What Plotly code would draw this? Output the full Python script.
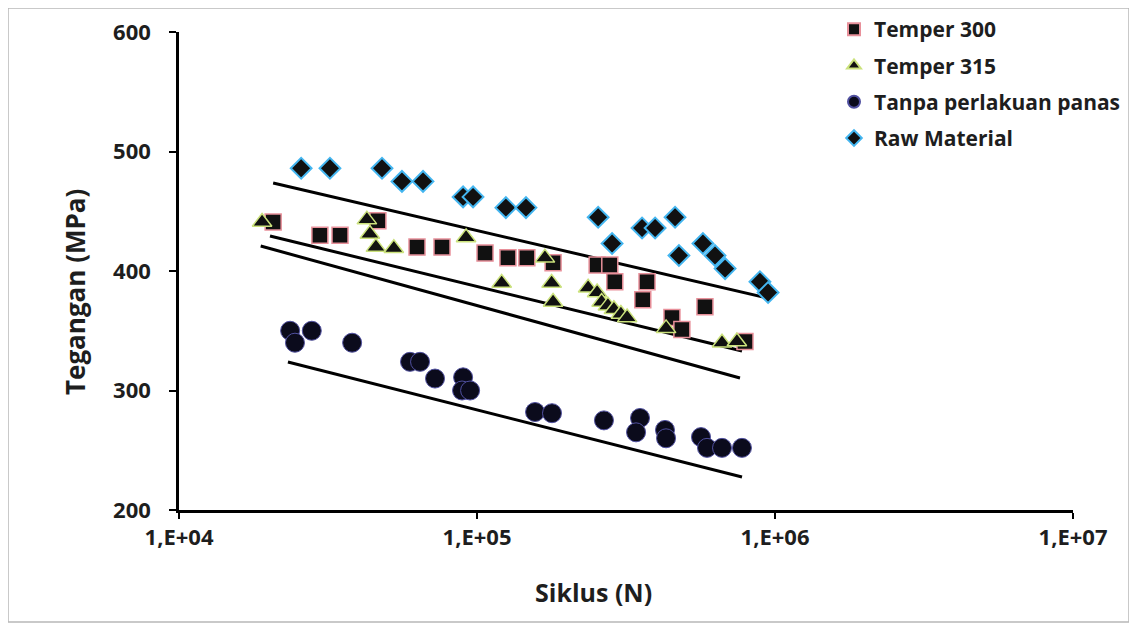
import plotly.graph_objects as go

# ---------------- data ----------------
t300_n = [20700, 29700, 34700, 46500, 62900, 76300, 106400, 127000, 147000, 180000,
          253000, 279000, 290000, 372000, 360000, 451000, 487000, 582000, 793000]
t300_s = [441, 430, 430, 442, 420, 420, 415, 411, 411, 407,
          405, 405, 391, 391, 376, 361, 351, 370, 341]

t315_n = [19000, 42700, 43700, 45800, 52600, 91900, 121000, 169000, 178000, 180000,
          236000, 253000, 262000, 275000, 288000, 304000, 319000, 431000, 664000, 745000]
t315_s = [441, 443, 431, 420, 419, 428, 390, 411, 390, 374,
          386, 382, 374, 371, 368, 364, 361, 352, 340, 341]

tanpa_n = [23600, 27900, 24500, 38100, 59600, 64400, 72300, 89800, 89100, 94800,
           156600, 178500, 266700, 352400, 341800, 427400, 430900, 564500, 591400, 664100, 774700]
tanpa_s = [350, 350, 340, 340, 324, 324, 310, 311, 300, 300,
           282, 281, 275, 277, 265, 267, 260, 261, 252, 252, 252]

raw_n = [25700, 32100, 48000, 56000, 65900, 89800, 97000, 125000, 146000, 255000,
         284000, 358000, 396000, 462000, 476000, 573000, 629000, 680000, 890000, 948000]
raw_s = [486, 486, 486, 475, 475, 462, 462, 453, 453, 445,
         423, 436, 436, 445, 413, 423, 413, 402, 391, 382]

# trend lines (end points)
trend_raw_n = [20700, 940000]
trend_raw_s = [473.6, 377.4]
trend_t300_n = [20200, 775000]
trend_t300_s = [429.3, 333.1]
trend_t315_n = [18800, 763000]
trend_t315_s = [420.9, 310.5]
trend_tanpa_n = [23200, 775000]
trend_tanpa_s = [323.8, 227.6]

x_tickvals = [1e4, 1e5, 1e6, 1e7]
x_ticktext = ["1,E+04", "1,E+05", "1,E+06", "1,E+07"]
y_tickvals = [200, 300, 400, 500, 600]

FONT = "Open Sans"
TXT = "#1e1e1e"

# page body adds an 8px offset; plot area in screen px: x 179..1073, y 32..510
OFF = 8
W, H = 1137 - OFF, 630 - OFF
L, T = 179 - OFF, 32 - OFF
PW, PH = 894, 478


def px(xs):
    return (xs - 179) / PW


def py(ys):
    return (510 - ys) / PH


fig = go.Figure()

# trend lines
for xs, ys in [(trend_raw_n, trend_raw_s), (trend_t300_n, trend_t300_s),
               (trend_t315_n, trend_t315_s), (trend_tanpa_n, trend_tanpa_s)]:
    fig.add_trace(go.Scatter(x=xs, y=ys, mode="lines",
                             line=dict(color="black", width=3),
                             showlegend=False, hoverinfo="skip"))

fig.add_trace(go.Scatter(x=t300_n, y=t300_s, mode="markers", name="Temper 300",
                         legendgroup="a",
                         marker=dict(symbol="square", size=16, color="#111111",
                                     line=dict(color="#e8909a", width=1.5))))
fig.add_trace(go.Scatter(x=t315_n, y=t315_s, mode="markers", name="Temper 315",
                         legendgroup="b",
                         marker=dict(symbol="triangle-up", size=17, color="#111111",
                                     line=dict(color="#cbe27c", width=1.5))))
fig.add_trace(go.Scatter(x=tanpa_n, y=tanpa_s, mode="markers", name="Tanpa perlakuan panas",
                         legendgroup="c",
                         marker=dict(symbol="circle", size=19, color="#0b0b1c",
                                     line=dict(color="#5050a0", width=1))))
fig.add_trace(go.Scatter(x=raw_n, y=raw_s, mode="markers", name="Raw Material",
                         legendgroup="d",
                         marker=dict(symbol="diamond", size=16, color="#111111",
                                     line=dict(color="#44b6f0", width=2))))

fig.update_layout(
    width=W, height=H,
    margin=dict(l=L, r=W - L - PW, t=T, b=H - T - PH, autoexpand=False),
    paper_bgcolor="white", plot_bgcolor="white",
    font=dict(family=FONT, color=TXT),
    showlegend=True,
    legend=dict(x=px(834), y=py(9), xanchor="left", yanchor="top",
                font=dict(family=FONT, size=21, color=TXT, weight="bold"),
                bgcolor="rgba(0,0,0,0)", itemsizing="constant",
                traceorder="grouped", tracegroupgap=6),
    xaxis=dict(type="log", range=[4, 7], tickvals=x_tickvals, ticktext=x_ticktext,
               showgrid=False, zeroline=False, showline=True, linecolor="black",
               linewidth=2.5, ticks="outside", ticklen=6, tickwidth=2,
               tickcolor="black",
               tickfont=dict(family=FONT, size=22, color=TXT, weight="bold")),
    yaxis=dict(range=[200, 600], tickvals=y_tickvals,
               showgrid=False, zeroline=False, showline=True, linecolor="black",
               linewidth=2.5, ticks="outside", ticklen=7, tickwidth=2,
               tickcolor="black", ticklabelstandoff=14,
               tickfont=dict(family=FONT, size=22, color=TXT, weight="bold")),
    annotations=[
        dict(text="Siklus (N)", xref="paper", yref="paper",
             x=px(593), y=py(592), xanchor="center", yanchor="middle",
             showarrow=False,
             font=dict(family=FONT, size=25, color=TXT, weight="bold")),
        dict(text="Tegangan (MPa)", xref="paper", yref="paper",
             x=px(75), y=py(292), xanchor="center", yanchor="middle",
             textangle=-90, showarrow=False,
             font=dict(family=FONT, size=26, color=TXT, weight="bold")),
    ],
    shapes=[
        dict(type="rect", xref="paper", yref="paper",
             x0=px(8), x1=px(1129), y0=py(622), y1=py(8),
             line=dict(color="#b8b8b8", width=1.5), fillcolor="rgba(0,0,0,0)",
             layer="below"),
    ],
)

fig.write_html("out.html")
